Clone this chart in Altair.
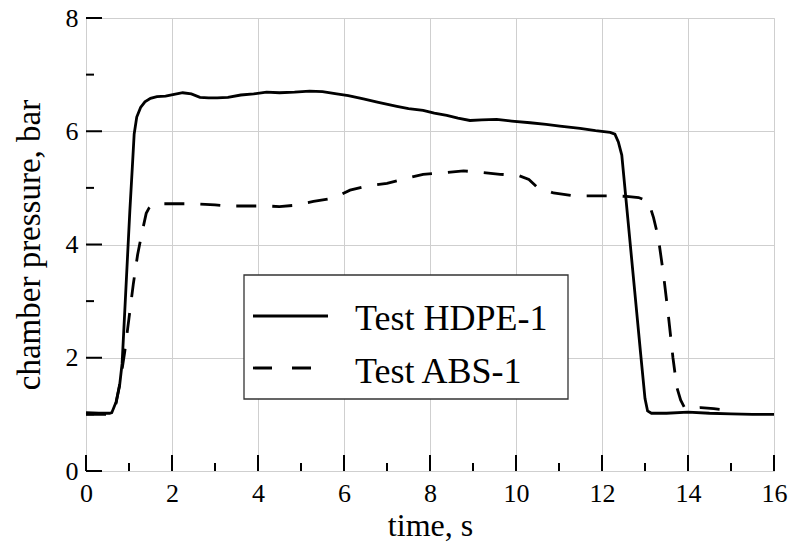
import altair as alt
import pandas as pd

# ---- data ----
hdpe_t = [0, 0.3, 0.55, 0.6, 0.7, 0.78, 0.84, 0.9, 0.96, 1.02, 1.08, 1.12, 1.18, 1.27, 1.37,
          1.5, 1.65, 1.85, 2.05, 2.25, 2.45, 2.65, 2.85, 3.05, 3.3, 3.6, 3.9, 4.2, 4.5, 4.85,
          5.2, 5.5, 5.83, 6.1, 6.45, 6.8, 7.23, 7.5, 7.84, 8.1, 8.39, 8.65, 8.93, 9.2, 9.55,
          9.9, 10.33, 10.7, 11.02, 11.49, 11.85, 12.19, 12.3, 12.38, 12.46, 12.6, 12.75, 12.9,
          13.0, 13.06, 13.15, 13.5, 14.0, 14.5, 15.0, 15.5, 16.0]
hdpe_p = [1.03, 1.02, 1.02, 1.03, 1.22, 1.5, 1.9, 2.8, 3.7, 4.6, 5.4, 5.95, 6.25, 6.42, 6.52,
          6.58, 6.61, 6.62, 6.65, 6.68, 6.66, 6.6, 6.59, 6.59, 6.6, 6.64, 6.66, 6.69, 6.68, 6.69,
          6.71, 6.70, 6.66, 6.63, 6.57, 6.51, 6.44, 6.40, 6.37, 6.32, 6.28, 6.23, 6.19, 6.2, 6.21,
          6.18, 6.15, 6.12, 6.09, 6.05, 6.01, 5.98, 5.95, 5.81, 5.58, 4.46, 3.26, 2.06,
          1.28, 1.06, 1.02, 1.02, 1.04, 1.02, 1.01, 1.0, 1.0]

abs_t = [0, 0.3, 0.55, 0.62, 0.7, 0.8, 0.9, 1.0, 1.1, 1.2, 1.3, 1.4, 1.47, 1.53, 1.7, 2.0,
         2.53, 3.0, 3.3, 3.8, 4.2, 4.5, 4.82, 5.29, 5.75, 6.14, 6.53, 7.0, 7.46, 7.84, 8.39,
         8.78, 9.24, 9.63, 10.05, 10.3, 10.48, 10.87, 11.33, 11.7, 12.2, 12.57, 12.85, 13.08,
         13.2, 13.31, 13.43, 13.54, 13.65, 13.74, 13.83, 13.91, 14.0, 14.3, 14.6, 15.0]
abs_p = [1.0, 1.0, 1.0, 1.05, 1.2, 1.6, 2.1, 2.7, 3.3, 3.82, 4.2, 4.55, 4.65, 4.70, 4.72, 4.72,
         4.72, 4.70, 4.68, 4.68, 4.68, 4.67, 4.69, 4.76, 4.82, 4.96, 5.03, 5.08, 5.17, 5.24, 5.27,
         5.30, 5.27, 5.24, 5.22, 5.15, 5.02, 4.91, 4.86, 4.86, 4.86, 4.85, 4.83, 4.76,
         4.47, 4.12, 3.47, 2.77, 2.0, 1.48, 1.25, 1.13, 1.1, 1.12, 1.1, 1.07]

series_names = ["Test HDPE-1", "Test ABS-1"]
x_major = [0, 2, 4, 6, 8, 10, 12, 14, 16]
x_minor = [1, 3, 5, 7, 9, 11, 13, 15]
y_major = [0, 2, 4, 6, 8]
y_minor = [1, 3, 5, 7]

FONT = "Liberation Serif"
W, H = 688, 453
TOP = 10

hdpe = pd.DataFrame({"t": hdpe_t, "p": hdpe_p})
abs_ = pd.DataFrame({"t": abs_t, "p": abs_p})

xs = alt.Scale(domain=[0, 16], nice=False)
ys = alt.Scale(domain=[0, 8], nice=False)

x_axis = alt.Axis(values=x_major, title="time, s", grid=True, gridColor="#cfcfcf", gridWidth=1,
                  ticks=False, tickSize=0, domain=False, labelFont=FONT, labelFontSize=26,
                  labelColor="black", labelPadding=9, labelFlush=False,
                  titleFont=FONT, titleFontSize=32, titleFontWeight="normal", titleColor="black",
                  titleX=344, titleY=64, titleBaseline="alphabetic")
y_axis = alt.Axis(values=y_major, title="chamber pressure, bar", grid=True, gridColor="#cfcfcf",
                  gridWidth=1, ticks=False, tickSize=0, domain=False, labelFont=FONT,
                  labelFontSize=26, labelColor="black", labelPadding=8, labelFlush=False,
                  titleFont=FONT, titleFontSize=33, titleFontWeight="normal", titleColor="black",
                  titleX=-47, titleY=H / 2, titleAngle=-90, titleAlign="center",
                  titleBaseline="alphabetic")

X = lambda f: alt.X(f, scale=xs, axis=x_axis)
Y = lambda f: alt.Y(f, scale=ys, axis=y_axis)

line_h = alt.Chart(hdpe).mark_line(color="black", strokeWidth=2.8).encode(
    x=X("t:Q"), y=Y("p:Q"))
line_a = alt.Chart(abs_).mark_line(color="black", strokeWidth=2.8, strokeDash=[20, 16]).encode(
    x=X("t:Q"), y=Y("p:Q"))

# inward ticks
def xticks(vals, length):
    return alt.Chart(pd.DataFrame({"t": vals})).mark_rule(color="black", strokeWidth=2).encode(
        x=X("t:Q"), y=alt.value(H), y2=alt.value(H - length))

def yticks(vals, length):
    return alt.Chart(pd.DataFrame({"p": vals})).mark_rule(color="black", strokeWidth=2).encode(
        y=Y("p:Q"), x=alt.value(0), x2=alt.value(length))

# legend (drawn as a box with sample lines and labels)
one = pd.DataFrame({"a": [0]})
leg_box = alt.Chart(one).mark_rect(fill="white", stroke="#333333", strokeWidth=1.3).encode(
    x=alt.value(158), x2=alt.value(482), y=alt.value(257), y2=alt.value(381))
leg_l1 = alt.Chart(one).mark_rule(color="black", strokeWidth=2.8).encode(
    x=alt.value(167), x2=alt.value(242), y=alt.value(298))
leg_l2 = alt.Chart(one).mark_rule(color="black", strokeWidth=2.8, strokeDash=[19, 20]).encode(
    x=alt.value(167), x2=alt.value(242), y=alt.value(350))

def leg_text(name, ypix):
    return alt.Chart(pd.DataFrame({"name": [name]})).mark_text(
        font=FONT, fontSize=36, align="left", baseline="alphabetic", color="black").encode(
        x=alt.value(269), y=alt.value(ypix), text="name:N")

chart = alt.layer(
    line_h, line_a,
    xticks(x_major, 16), xticks(x_minor, 8), yticks(y_major, 16), yticks(y_minor, 8),
    leg_box, leg_l1, leg_l2, leg_text(series_names[0], 312), leg_text(series_names[1], 365),
).properties(
    width=W, height=H,
    autosize=alt.AutoSizeParams(type="none"),
    padding={"left": 78, "top": TOP, "right": 20, "bottom": 73},
).configure_view(stroke="black", strokeWidth=2).configure(background="white")

chart.save("out.html", embed_options={"renderer": "svg", "actions": False})
